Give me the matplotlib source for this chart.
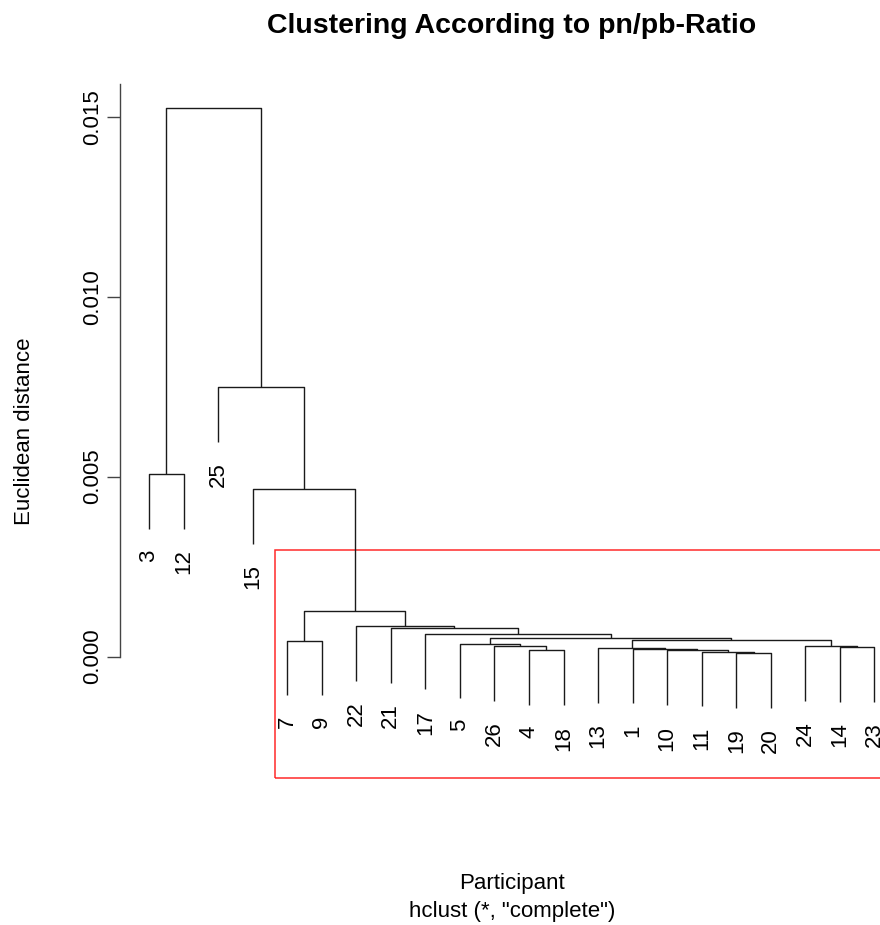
import matplotlib
matplotlib.use("Agg")
import matplotlib.pyplot as plt
from matplotlib.patches import Rectangle

plt.rcParams['font.family'] = ['Liberation Sans', 'DejaVu Sans']

# ---- data (R hclust style: negative = participant leaf, positive = merge step) ----
leaf_order = [3, 12, 25, 15, 7, 9, 22, 21, 17, 5, 26, 4, 18, 13, 1, 10, 11, 19, 20, 24, 14, 23]
merge_a = [-3, -7, -4, -19, -14, -11, -10, -1, -13, -24, 9, -26, -5, 13, -17, -21, -22, 2, -15, -25, 1]
merge_b = [-12, -9, -18, -20, -23, 4, 6, 7, 8, 5, 10, 3, 12, 11, 14, 15, 16, 17, 18, 19, 20]
merge_height = [0.00507, 0.00044, 0.000167, 0.000097, 0.000264, 0.000139, 0.000167,
                0.000209, 0.000236, 0.000284, 0.000445, 0.000292, 0.000361, 0.000514,
                0.000612, 0.000792, 0.000848, 0.001273, 0.004657, 0.00749, 0.01525]
y_ticks = [0.000, 0.005, 0.010, 0.015]
y_tick_labels = ['0.000', '0.005', '0.010', '0.015']
n_clusters = 5
title = "Clustering According to pn/pb-Ratio"
x_label = "Participant"
sub_label = 'hclust (*, "complete")'
y_label = "Euclidean distance"

# ---- figure ----
W, H = 880, 925
fig = plt.figure(figsize=(W / 100, H / 100), dpi=100)
ax_l, ax_r, ax_t, ax_b = 120, 903.5, 84, 778
ax = fig.add_axes([ax_l / W, 1 - ax_b / H, (ax_r - ax_l) / W, (ax_b - ax_t) / H])

n = len(leaf_order)
ext = 0.04 * (n - 1)
ax.set_xlim(1 - ext, n + ext)
ymin, ymax = -0.003378, 0.015917
ax.set_ylim(ymin, ymax)

fs = 16
hang = 0.1 * (max(merge_height) - min(merge_height))
leaf_pos = {p: i + 1 for i, p in enumerate(leaf_order)}
node_x = {}
lc = '#1a1a1a'
lw = 1.0

for i, (a, b, h) in enumerate(zip(merge_a, merge_b, merge_height)):
    pts = []
    for c in (a, b):
        if c < 0:
            x = leaf_pos[-c]
            y = h - hang
            ax.annotate(str(-c), xy=(x, y), xytext=(0, -15.0), textcoords='offset points',
                        rotation=90, ha='center', va='top', fontsize=fs, color='black')
        else:
            x = node_x[c]
            y = merge_height[c - 1]
        pts.append((x, y))
    (x1, y1), (x2, y2) = pts
    ax.plot([x1, x1, x2, x2], [y1, h, h, y2], color=lc, lw=lw, solid_capstyle='butt')
    node_x[i + 1] = (x1 + x2) / 2

# cut rectangle (rect.hclust style)
hs = sorted(merge_height, reverse=True)
cut = (hs[n_clusters - 2] + hs[n_clusters - 1]) / 2
start = leaf_order.index(15) + 1 + 0.66
ax.add_patch(Rectangle((start, ymin), n + 0.33 - start, cut - ymin,
                       fill=False, edgecolor='#ff2a2a', lw=1.1, clip_on=False))

# axes styling
for s in ['top', 'right', 'bottom']:
    ax.spines[s].set_visible(False)
ax.spines['left'].set_bounds(0, ymax)
ax.spines['left'].set_color('#444444')
ax.spines['left'].set_linewidth(1.0)
ax.set_xticks([])
ax.set_yticks(y_ticks)
ax.set_yticklabels(y_tick_labels, rotation=90, va='center', fontsize=fs)
ax.tick_params(axis='y', length=9.4, width=1.0, color='#444444', pad=2.5)

fig.text(511.75 / W, 1 - 26 / H, title, ha='center', va='center', fontsize=20.5, fontweight='bold')
fig.text(511.75 / W, 1 - 884 / H, x_label, ha='center', va='center', fontsize=fs)
fig.text(511.75 / W, 1 - 911 / H, sub_label, ha='center', va='center', fontsize=fs)
fig.text(25 / W, 1 - 431 / H, y_label, ha='center', va='center', rotation=90, fontsize=fs)

fig.savefig("out.png", dpi=100)
